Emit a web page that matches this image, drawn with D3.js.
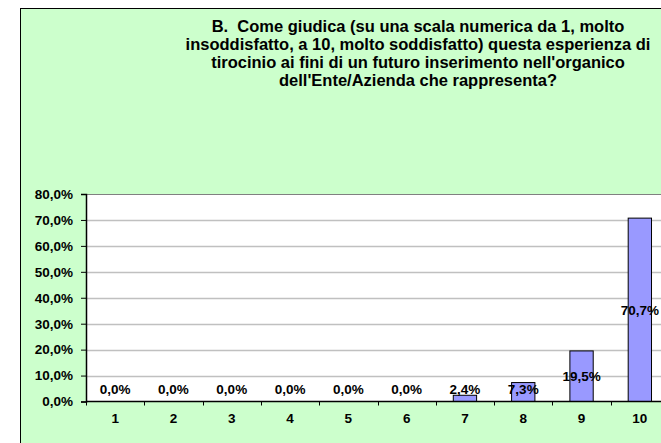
<!DOCTYPE html>
<html>
<head>
<meta charset="utf-8">
<script src="https://cdn.jsdelivr.net/npm/d3@7"></script>
<style>
  body { margin: 0; background: #fff; }
  svg text { font-family: Arial, "Liberation Sans", sans-serif; font-weight: bold; fill: #000; }
</style>
</head>
<body>
<svg width="661" height="443"></svg>
<script>
// data
const categories = ["1", "2", "3", "4", "5", "6", "7", "8", "9", "10"];
const values = [0, 0, 0, 0, 0, 0, 2.4, 7.3, 19.5, 70.7];
const yTicks = [0, 10, 20, 30, 40, 50, 60, 70, 80];
const titleLines = [
  "B.  Come giudica (su una scala numerica da 1, molto",
  "insoddisfatto, a 10, molto soddisfatto) questa esperienza di",
  "tirocinio ai fini di un futuro inserimento nell'organico",
  "dell'Ente/Azienda che rappresenta?"
];

const svg = d3.select('svg');
const fmt = v => d3.format('.1f')(v).replace('.', ',') + '%';

// chart area background
svg.append('rect')
  .attr('x', 20.5).attr('y', 8.5)
  .attr('width', 700).attr('height', 500)
  .attr('fill', '#ccffcc')
  .attr('stroke', '#000')
  .attr('stroke-width', 1);

// title
svg.append('g').selectAll('text')
  .data(titleLines)
  .enter()
  .append('text')
  .attr('x', 418)
  .attr('y', (d, i) => 32 + i * 18)
  .attr('text-anchor', 'middle')
  .attr('font-size', 16.5)
  .style('white-space', 'pre')
  .text(d => d);

const plotLeft = 86, plotTop = 194, plotBottom = 401.5, plotW = 583;
const x = d3.scaleBand().domain(categories).range([plotLeft, plotLeft + plotW]).paddingInner(0.6).paddingOuter(0.3);
const xb = d3.scaleBand().domain(categories).range([plotLeft, plotLeft + plotW]);
const y = d3.scaleLinear().domain([0, 80]).range([plotBottom, plotTop]);

// plot area
svg.append('rect')
  .attr('x', plotLeft).attr('y', plotTop)
  .attr('width', plotW).attr('height', plotBottom - plotTop)
  .attr('fill', '#fff');

// gridlines
svg.append('g').selectAll('line')
  .data(yTicks.filter(d => d > 0 && d < 80))
  .enter()
  .append('line')
  .attr('x1', plotLeft).attr('x2', plotLeft + plotW)
  .attr('y1', d => Math.round(y(d)) + 0.5).attr('y2', d => Math.round(y(d)) + 0.5)
  .attr('stroke', '#c0c0c0')
  .attr('stroke-width', 1.5);

svg.append('line')
  .attr('x1', plotLeft).attr('x2', plotLeft + plotW)
  .attr('y1', plotTop + 0.5).attr('y2', plotTop + 0.5)
  .attr('stroke', '#808080');

// bars
svg.append('g').selectAll('rect')
  .data(values)
  .enter()
  .append('rect')
  .attr('x', (d, i) => x(categories[i]))
  .attr('width', x.bandwidth())
  .attr('y', d => y(d))
  .attr('height', d => plotBottom - y(d))
  .attr('fill', '#9999ff')
  .attr('stroke', '#000')
  .attr('stroke-width', 1)
  .attr('visibility', d => d > 0 ? 'visible' : 'hidden');

// axes
const yAxis = svg.append('g')
  .attr('transform', `translate(${plotLeft},0)`)
  .call(d3.axisLeft(y).tickValues(yTicks).tickFormat(fmt).tickSize(5).tickPadding(8));
yAxis.select('.domain').attr('stroke-width', 1.5);

const xAxis = svg.append('g')
  .attr('transform', `translate(0,${plotBottom})`)
  .call(d3.axisBottom(xb).tickSize(0).tickPadding(12));
xAxis.selectAll('.tick line').remove();
xAxis.select('.domain').remove();
svg.selectAll('g').attr('font-family', null);
yAxis.selectAll('text').attr('font-size', 13.5);
xAxis.selectAll('text').attr('font-size', 13.5);

svg.append('g').selectAll('line')
  .data(categories)
  .enter()
  .append('line')
  .attr('x1', d => Math.round(xb(d)) + 0.5).attr('x2', d => Math.round(xb(d)) + 0.5)
  .attr('y1', plotBottom).attr('y2', plotBottom + 4)
  .attr('stroke', '#000');

svg.append('line')
  .attr('x1', plotLeft).attr('x2', plotLeft + plotW)
  .attr('y1', plotBottom).attr('y2', plotBottom)
  .attr('stroke', '#000').attr('stroke-width', 1.5);
svg.selectAll('.domain, .tick line').attr('stroke', '#000');

// value labels
svg.append('g').selectAll('text')
  .data(values)
  .enter()
  .append('text')
  .attr('x', (d, i) => xb(categories[i]) + xb.bandwidth() / 2)
  .attr('y', d => Math.min((y(d) + plotBottom) / 2, plotBottom - 12))
  .attr('dy', '0.35em')
  .attr('text-anchor', 'middle')
  .attr('font-size', 13.5)
  .text(d => fmt(d));
</script>
</body>
</html>
